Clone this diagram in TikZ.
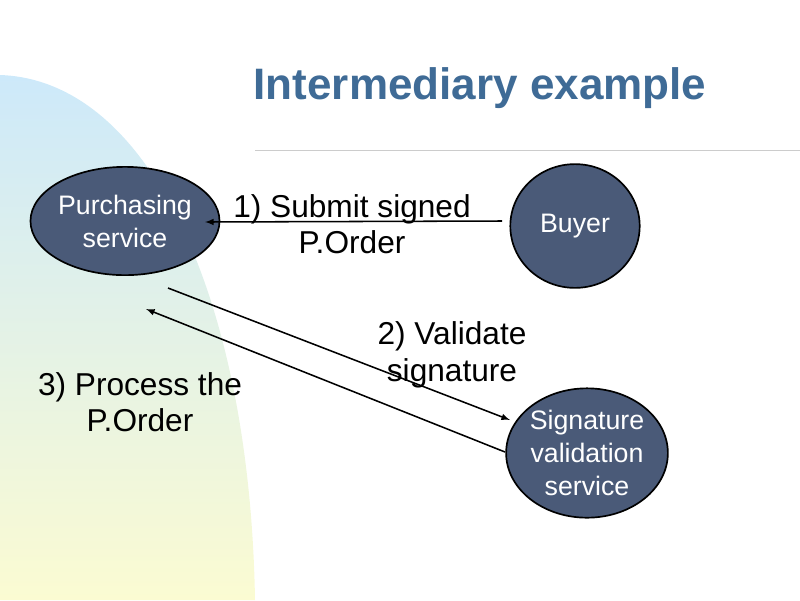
\documentclass[tikz,border=0pt]{standalone}
\usepackage{fontspec}
\setmainfont{Liberation Sans}
\usetikzlibrary{shapes.geometric}
\definecolor{slate}{HTML}{4A5A78}
\definecolor{titleblue}{HTML}{3F6B96}
\definecolor{bgtop}{HTML}{CDE9FA}
\definecolor{bgbot}{HTML}{FBFBD2}
\tikzset{
	svc/.style={ellipse, draw=black, line width=1.2pt, fill=slate, text=white, align=center, inner sep=0pt, font=\fontsize{19}{23.5}\selectfont},
	lbl/.style={align=center, font=\fontsize{22.5}{26}\selectfont},
	msg/.style={line width=1.1pt, -latex}
}
\begin{document}
\begin{tikzpicture}[x=0.025cm, y=-0.025cm]
	\useasboundingbox (0,0) rectangle (800,600);
	\shade[top color=bgtop, bottom color=bgbot] (0,75) .. controls (150,80) and (250,300) .. (255,600) -- (0,600) -- cycle;

	\node[titleblue, font=\bfseries\fontsize{31.3}{36}\selectfont] (title) at (480,88) {Intermediary example};
	\draw[gray!40] (255,150) -- (800,150);

	\node[svc, minimum width=113pt, minimum height=77pt] (purch) at (125,221) {Purchasing\\service};
	\node[svc, minimum width=92pt, minimum height=88pt] (buyer) at (575,226) {Buyer};
	\node[svc, minimum width=106pt, minimum height=92pt] (sig) at (587,453) {Signature\\validation\\service};

	\coordinate (p1) at (205,222);
	\coordinate (b1) at (502,221);
	\coordinate (p2) at (168,288);
	\coordinate (s2) at (510,420);
	\coordinate (p3) at (146,309);
	\coordinate (s3) at (505,452);

	\draw[msg] (b1) -- (p1);
	\draw[msg] (p2) -- (s2);
	\draw[msg] (s3) -- (p3);

	\node[lbl] (submit) at (352,224) {1) Submit signed\\P.Order};
	\node[lbl] (validate) at (452,355) {2) Validate\\signature};
	\node[lbl] (process) at (140,402) {3) Process the\\P.Order};
\end{tikzpicture}
\end{document}
